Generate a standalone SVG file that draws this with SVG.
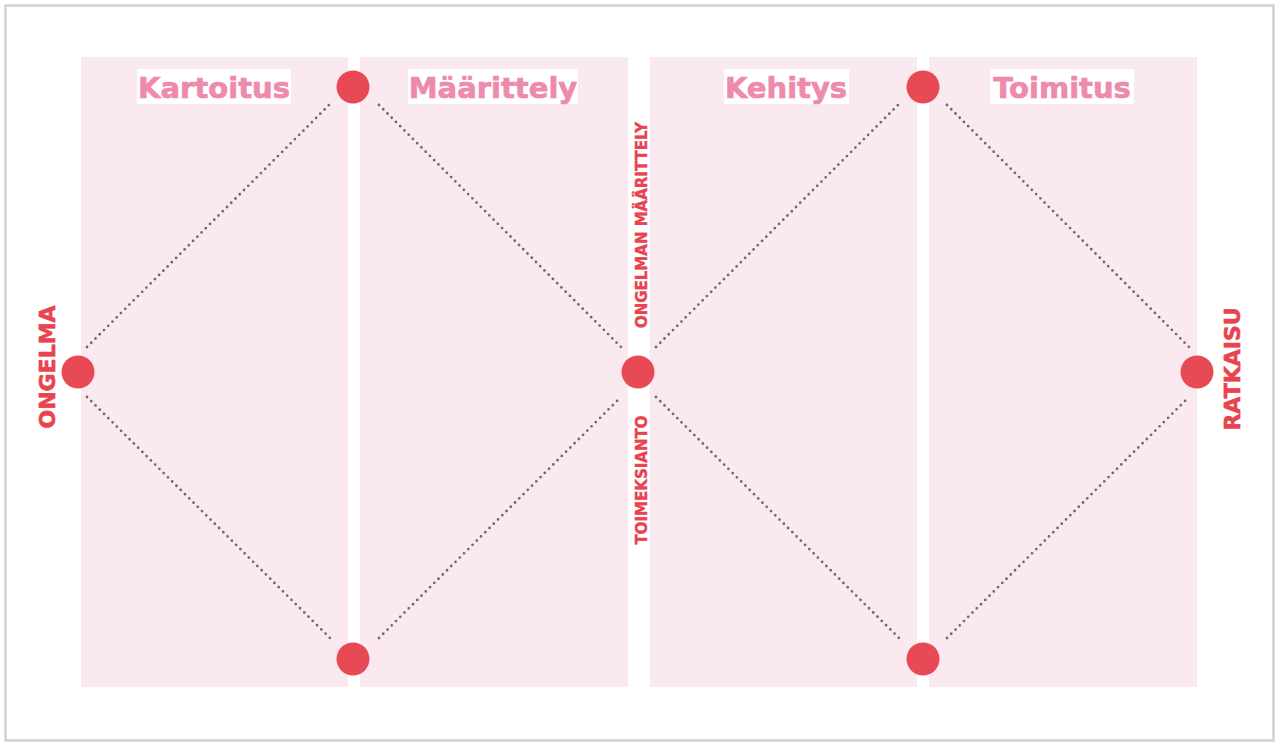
<svg xmlns="http://www.w3.org/2000/svg" width="1279" height="743" viewBox="0 0 1279 743">
<defs>
<style>
.panel{fill:#faeaef}
.tbg{fill:#ffffff}
.title{font-family:"DejaVu Sans",Verdana,sans-serif;font-weight:bold;font-size:29px;fill:#ee8aab;stroke:#ee8aab;stroke-width:0.7;text-anchor:middle}
.vlab{font-family:"DejaVu Sans",Verdana,sans-serif;font-weight:bold;fill:#e8434f;stroke:#e8434f;text-anchor:middle}
.dot{fill:#e84a55}
.conn{stroke:#6e6a78;stroke-width:2.8;stroke-linecap:round;stroke-dasharray:0 6;fill:none}
</style>
</defs>
<rect x="0" y="0" width="1279" height="743" fill="#ffffff"/>
<rect x="5.5" y="5.5" width="1268" height="735" fill="none" stroke="#d2d2d2" stroke-width="2.5"/>

<g id="panels">
<rect class="panel" x="81" y="57" width="267" height="630"/>
<rect class="panel" x="360" y="57" width="268" height="630"/>
<rect class="panel" x="650" y="57" width="267" height="630"/>
<rect class="panel" x="929" y="57" width="268" height="630"/>
</g>

<g id="title-kartoitus">
<rect class="tbg" x="137" y="69" width="154" height="35"/>
<text class="title" x="214" y="98">Kartoitus</text>
</g>
<g id="title-maarittely">
<rect class="tbg" x="408" y="69" width="170" height="35"/>
<text class="title" x="493" y="98">Määrittely</text>
</g>
<g id="title-kehitys">
<rect class="tbg" x="724" y="69" width="125" height="35"/>
<text class="title" x="786" y="98">Kehitys</text>
</g>
<g id="title-toimitus">
<rect class="tbg" x="990" y="69" width="144" height="35"/>
<text class="title" x="1062" y="98">Toimitus</text>
</g>

<g id="connectors">
<line class="conn" x1="87" y1="347" x2="330" y2="104"/>
<line class="conn" x1="87" y1="397" x2="330" y2="638"/>
<line class="conn" x1="379" y1="105" x2="621" y2="347"/>
<line class="conn" x1="379" y1="638" x2="621" y2="397"/>
<line class="conn" x1="656" y1="347" x2="899" y2="104"/>
<line class="conn" x1="656" y1="397" x2="899" y2="638"/>
<line class="conn" x1="947" y1="105" x2="1189" y2="347"/>
<line class="conn" x1="947" y1="638" x2="1189" y2="397"/>
</g>

<g id="node-ongelma">
<circle class="dot" cx="78" cy="372" r="16.5"/>
<text class="vlab" font-size="22" stroke-width="0.6" transform="translate(55,367) rotate(-90)">ONGELMA</text>
</g>
<g id="node-top-1">
<circle class="dot" cx="353" cy="87" r="16.5"/>
</g>
<g id="node-bottom-1">
<circle class="dot" cx="353" cy="659" r="16.5"/>
</g>
<g id="node-center">
<circle class="dot" cx="638" cy="372" r="16.5"/>
<text class="vlab" font-size="15" stroke-width="0.4" transform="translate(647,225) rotate(-90)">ONGELMAN MÄÄRITTELY</text>
<text class="vlab" font-size="15" stroke-width="0.4" transform="translate(647,480) rotate(-90)">TOIMEKSIANTO</text>
</g>
<g id="node-top-2">
<circle class="dot" cx="923" cy="87" r="16.5"/>
</g>
<g id="node-bottom-2">
<circle class="dot" cx="923" cy="659" r="16.5"/>
</g>
<g id="node-ratkaisu">
<circle class="dot" cx="1197" cy="372" r="16.5"/>
<text class="vlab" font-size="22" stroke-width="0.6" transform="translate(1240,369) rotate(-90)">RATKAISU</text>
</g>
</svg>
